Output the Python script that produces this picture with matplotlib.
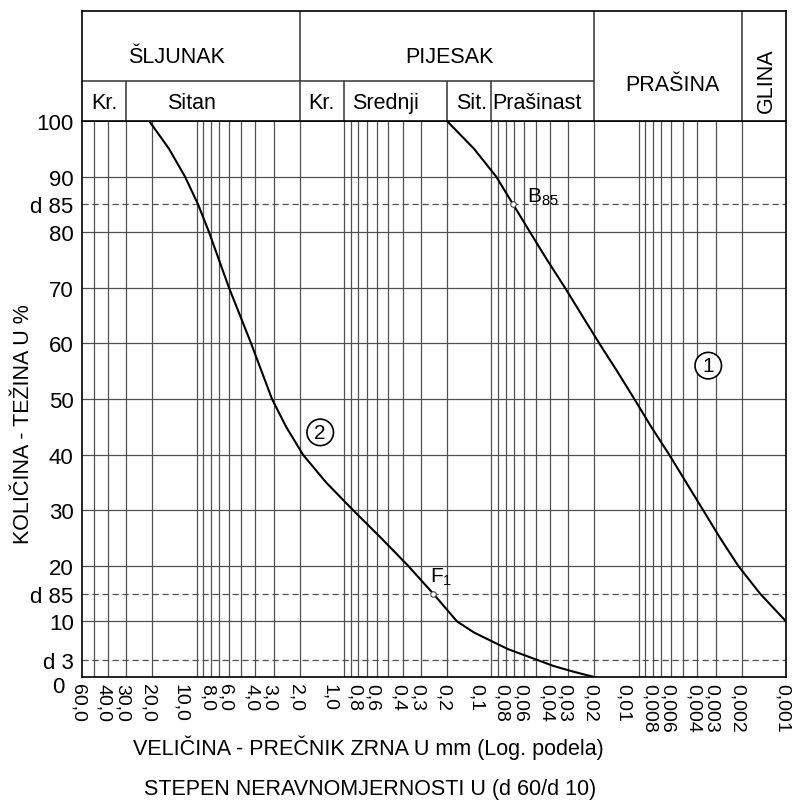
import matplotlib
matplotlib.use('Agg')
import matplotlib.pyplot as plt
import matplotlib.transforms as mtransforms
from matplotlib.ticker import NullLocator

plt.rcParams['font.family'] = ['Liberation Sans', 'DejaVu Sans']
plt.rcParams['mathtext.fontset'] = 'custom'
plt.rcParams['mathtext.rm'] = 'Liberation Sans'

# grain size (mm) and percent passing
curve1_d = [0.2, 0.131, 0.0927, 0.0711, 0.0546, 0.0418, 0.0316, 0.0242, 0.0185,
            0.014, 0.0107, 0.00822, 0.00621, 0.00476, 0.00365, 0.0028,
            0.00211, 0.0015, 0.001]
curve1_p = [100, 95, 90, 85, 80, 75, 70, 65, 60, 55, 50, 45, 40, 35, 30, 25, 20, 15, 10]
curve2_d = [21, 15.4, 12.0, 9.78, 8.24, 6.03, 4.27, 3.08, 2.47, 1.90, 1.323,
            0.867, 0.560, 0.367, 0.248, 0.171, 0.131, 0.097, 0.0769, 0.048,
            0.038, 0.029, 0.0238, 0.02]
curve2_p = [100, 95, 90, 85, 80, 70, 60, 50, 45, 40, 35, 30, 25, 20, 15, 10,
            8, 6.3, 5, 3, 2, 1.1, 0.5, 0]

grid_d = [50, 40, 30, 20,
          10, 9, 8, 7, 6, 5, 4, 3, 2,
          1, 0.9, 0.8, 0.7, 0.6, 0.5, 0.4, 0.3, 0.2,
          0.1, 0.09, 0.08, 0.07, 0.06, 0.05, 0.04, 0.03, 0.02,
          0.01, 0.009, 0.008, 0.007, 0.006, 0.005, 0.004, 0.003, 0.002]
xtick_vals = [60, 40, 30, 20, 10, 8, 6, 4, 3, 2, 1, 0.8, 0.6, 0.4, 0.3, 0.2,
              0.1, 0.08, 0.06, 0.04, 0.03, 0.02, 0.01, 0.008, 0.006, 0.004,
              0.003, 0.002, 0.001]
xtick_labels = ['60,0', '40,0', '30,0', '20,0', '10,0', '8,0', '6,0', '4,0', '3,0',
                '2,0', '1,0', '0,8', '0,6', '0,4', '0,3', '0,2', '0,1', '0,08',
                '0,06', '0,04', '0,03', '0,02', '0,01', '0,008', '0,006', '0,004',
                '0,003', '0,002', '0,001']
ytick_vals = [0, 3, 10, 15, 20, 30, 40, 50, 60, 70, 80, 85, 90, 100]
ytick_labels = ['0', 'd 3', '10', 'd 85', '20', '30', '40', '50', '60', '70',
                '80', 'd 85', '90', '100']
solid_y = [10, 20, 30, 40, 50, 60, 70, 80, 90]
dashed_y = [3, 15, 85]

# soil classification header
main_bounds = [2, 0.02, 0.002]
sub_bounds = [30, 1, 0.2, 0.1]
main_names = ['ŠLJUNAK', 'PIJESAK', 'PRAŠINA']
main_x = [13.8, 0.193, 0.0059]
sub_names = ['Kr.', 'Sitan', 'Kr.', 'Srednji', 'Sit.', 'Prašinast']
sub_x = [42, 10.9, 1.43, 0.52, 0.135, 0.049]

fig = plt.figure(figsize=(7.96, 8.04), dpi=100)
ax = fig.add_axes([82/796, 126/804, 704/796, 556/804])
axh = fig.add_axes([82/796, 682/804, 704/796, 110/804], sharex=ax)

ax.set_xscale('log')
ax.set_xlim(60, 0.001)
ax.set_ylim(0, 100)

gc = '#505050'
ax.vlines(grid_d, 0, 100, color=gc, lw=0.9)
ax.hlines(solid_y, 60, 0.001, color=gc, lw=0.9)
ax.hlines(dashed_y, 60, 0.001, color=gc, lw=0.9, linestyles=(0, (5, 3)))

ax.plot(curve1_d, curve1_p, color='black', lw=1.5)
ax.plot(curve2_d, curve2_p, color='black', lw=1.5)

b85 = curve1_d[curve1_p.index(85)]
f1 = curve2_d[curve2_p.index(15)]
ax.plot([b85, f1], [85, 15], 'o', mfc='white', mec='#444444', ms=4, mew=0.8, zorder=3)
ax.text(0.057, 85.4, r'$\mathregular{B_{85}}$', fontsize=15, ha='left', va='baseline')
ax.text(0.26, 17.1, r'$\mathregular{F_{1}}$', fontsize=15, ha='left', va='baseline')

circ = dict(boxstyle='circle,pad=0.18', fc='white', ec='black', lw=1.2)
ax.text(0.00337, 56, '1', fontsize=15, ha='center', va='center', bbox=circ)
ax.text(1.45, 44, '2', fontsize=15, ha='center', va='center', bbox=circ)

ax.set_xticks(xtick_vals)
ax.set_xticklabels(xtick_labels, rotation=-90, fontsize=14)
ax.xaxis.set_minor_locator(NullLocator())
ax.set_yticks(ytick_vals)
ax.set_yticklabels(ytick_labels, fontsize=16)
ax.tick_params(length=0)
ax.tick_params(axis='x', pad=4)
ax.tick_params(axis='y', pad=6)

# shift the x labels a little to the left, the decade labels a bit more
shifted = {'10,0': -16, '1,0': -14, '0,1': -15, '0,01': -15}
for lab in ax.get_xticklabels():
    dx = shifted.get(lab.get_text(), -4)
    lab.set_transform(lab.get_transform() +
                      mtransforms.ScaledTranslation(dx/100, 0, fig.dpi_scale_trans))
ylab0 = ax.get_yticklabels()[0]
ylab0.set_transform(ylab0.get_transform() +
                    mtransforms.ScaledTranslation(-9/100, -7/100, fig.dpi_scale_trans))
for s in ax.spines.values():
    s.set_linewidth(1.2)

axh.set_ylim(0, 1)
axh.tick_params(which='both', length=0, labelbottom=False, labelleft=False)
for s in axh.spines.values():
    s.set_linewidth(1.2)
axh.vlines(main_bounds, 0, 1, color='#333333', lw=1.1)
axh.vlines(sub_bounds, 0, 0.364, color='#333333', lw=1.1)
axh.hlines(0.364, 60, 0.02, color='#333333', lw=1.1)
for name, x in zip(main_names, main_x):
    y = 0.33 if name == 'PRAŠINA' else 0.59
    axh.text(x, y, name, fontsize=15.5, ha='center', va='center')
axh.text(0.00136, 0.38, 'GLINA', fontsize=15.5, ha='center', va='center', rotation=90)
for name, x in zip(sub_names, sub_x):
    axh.text(x, 0.165, name, fontsize=15.5, ha='center', va='center')

fig.text(24/796, 1 - 424/804, 'KOLIČINA - TEŽINA U %', fontsize=15.5,
         rotation=90, ha='center', va='center')
fig.text(368/796, 1 - 748/804, 'VELIČINA - PREČNIK ZRNA U mm (Log. podela)',
         fontsize=15.5, ha='center', va='center')
fig.text(370/796, 1 - 790/804, 'STEPEN NERAVNOMJERNOSTI U (d 60/d 10)',
         fontsize=15.5, ha='center', va='center')

fig.savefig('out.png', dpi=100)
